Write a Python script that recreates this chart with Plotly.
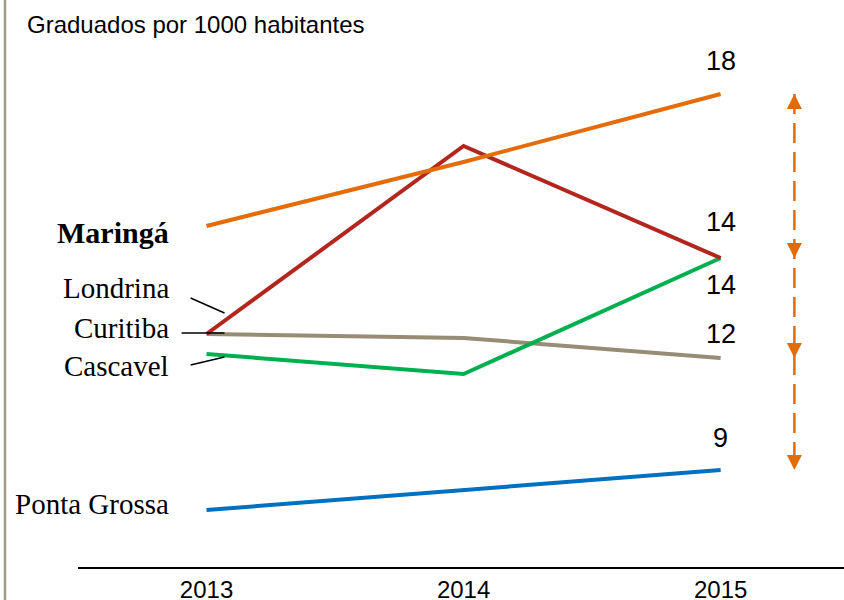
import plotly.graph_objects as go

years = [2013, 2014, 2015]
cities = ["Curitiba", "Cascavel", "Ponta Grossa", "Londrina", "Maringá"]
maringa = [14.9, 16.5, 18.2]
londrina = [12.2, 16.9, 14.1]
curitiba = [12.2, 12.1, 11.6]
cascavel = [11.7, 11.2, 14.1]
ponta_grossa = [7.8, 8.3, 8.8]
tick_labels = ["2013", "2014", "2015"]
title_text = "Graduados por 1000 habitantes"

series = {
    "Curitiba": curitiba,
    "Cascavel": cascavel,
    "Ponta Grossa": ponta_grossa,
    "Londrina": londrina,
    "Maringá": maringa,
}
colors = {
    "Maringá": "#E46C0A",
    "Londrina": "#B3261E",
    "Curitiba": "#978C74",
    "Cascavel": "#00B050",
    "Ponta Grossa": "#0070C0",
}

W, H = 844, 600
ML, MR, MT, MB = 78, 0, 40, 33
PW, PH = W - ML - MR, H - MT - MB
XR = [2012.5, 2015.48]
YR = [6.375, 19.55]

fig = go.Figure()
for c in cities:
    fig.add_trace(go.Scatter(x=years, y=series[c], mode="lines",
                             line=dict(color=colors[c], width=4),
                             hoverinfo="skip", showlegend=False))

arrow_x = 2015.287
arrow_col = "#E26B0A"
fig.add_trace(go.Scatter(x=[arrow_x, arrow_x], y=[maringa[2], ponta_grossa[2]],
                         mode="lines", line=dict(color=arrow_col, width=2.5, dash="20px,9px"),
                         hoverinfo="skip", showlegend=False))

annotations = []
# arrow heads
annotations.append(dict(x=arrow_x, y=maringa[2], ax=0, ay=15, showarrow=True, arrowhead=2,
                        arrowsize=1.5, arrowwidth=2, arrowcolor=arrow_col, text=""))
for v in [londrina[2], curitiba[2], ponta_grossa[2]]:
    annotations.append(dict(x=arrow_x, y=v, ax=0, ay=-15, showarrow=True, arrowhead=2,
                            arrowsize=1.5, arrowwidth=2, arrowcolor=arrow_col, text=""))

# value labels at 2015
val_shift = {"Maringá": 33, "Londrina": 36, "Cascavel": -27, "Curitiba": 24, "Ponta Grossa": 32}
for c in cities:
    v = series[c][2]
    annotations.append(dict(x=2015, y=v, yshift=val_shift[c], text=str(round(v)), showarrow=False,
                            font=dict(family="Liberation Sans, Arial", size=27, color="#000000"),
                            xanchor="center", yanchor="middle"))

# city labels
label_y = {"Maringá": 14.75, "Londrina": 13.35, "Curitiba": 12.35, "Cascavel": 11.4, "Ponta Grossa": 7.95}
for c in ["Maringá", "Londrina", "Curitiba", "Cascavel", "Ponta Grossa"]:
    bold = c == "Maringá"
    txt = "<b>%s</b>" % c if bold else c
    annotations.append(dict(x=2012.86, y=label_y[c], text=txt, showarrow=False, xanchor="right",
                            yanchor="middle",
                            font=dict(family="Liberation Serif, Times New Roman, serif",
                                      size=30 if bold else 29, color="#000000")))

# title
annotations.append(dict(xref="paper", yref="paper", x=(25 - ML) / PW, y=1 + (MT - 24) / PH,
                        xanchor="left", yanchor="middle", text=title_text, showarrow=False,
                        font=dict(family="Liberation Sans, Arial", size=24, color="#000000")))

shapes = [
    dict(type="line", xref="paper", yref="paper", x0=(5 - ML) / PW, x1=(5 - ML) / PW,
         y0=-MB / PH, y1=1 + MT / PH, line=dict(color="#A39C88", width=2.5)),
    dict(type="line", xref="x", yref="y", x0=2012.938, y0=13.1, x1=2013.07, y1=12.725,
         line=dict(color="#000000", width=1.5), layer="above"),
    dict(type="line", xref="x", yref="y", x0=2012.903, y0=12.225, x1=2013.07, y1=12.225,
         line=dict(color="#000000", width=1.5), layer="above"),
    dict(type="line", xref="x", yref="y", x0=2012.938, y0=11.425, x1=2013.07, y1=11.625,
         line=dict(color="#000000", width=1.5), layer="above"),
]

fig.update_layout(
    width=W, height=H,
    margin=dict(l=ML, r=MR, t=MT, b=MB, autoexpand=False),
    paper_bgcolor="white", plot_bgcolor="white",
    showlegend=False,
    annotations=annotations,
    shapes=shapes,
    xaxis=dict(range=XR, tickmode="array", tickvals=years, ticktext=tick_labels,
               showgrid=False, zeroline=False, showline=True, linecolor="#000000", linewidth=2,
               ticks="", tickfont=dict(family="Liberation Sans, Arial", size=24, color="#000000"),
               automargin=False, fixedrange=True),
    yaxis=dict(range=YR, visible=False, showgrid=False, zeroline=False, automargin=False,
               fixedrange=True),
)

fig.write_html("out.html", config={"displayModeBar": False},
               post_script="document.body.style.margin='0';document.body.style.overflow='hidden';")
